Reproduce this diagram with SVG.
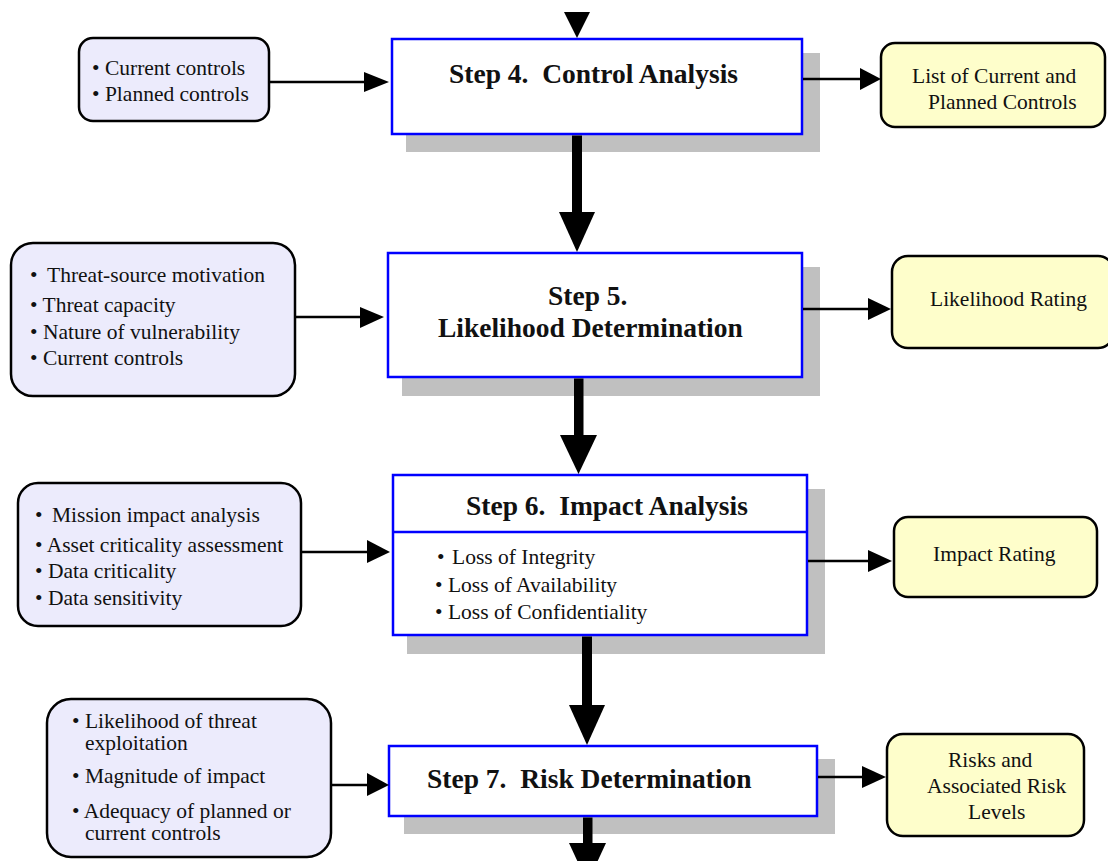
<svg xmlns="http://www.w3.org/2000/svg" width="1108" height="861" viewBox="0 0 1108 861">
<style>
text{font-family:"Liberation Serif","Times New Roman",serif;fill:#111;white-space:pre}
.t{font-size:21.5px}
.h{font-size:27.5px;font-weight:bold}
.step{fill:#fff;stroke:#0000ff;stroke-width:2.5}
.sh{fill:#c0c0c0}
.in{fill:#ecebfc;stroke:#000;stroke-width:2.5}
.out{fill:#fefecb;stroke:#000;stroke-width:2.5}
.ln{stroke:#000;stroke-width:2.5;fill:none}
.hd{fill:#000}
</style>
<rect width="1108" height="861" fill="#fff"/>
<g id="step4">
<rect class="sh" x="406" y="53" width="414" height="99"/>
<rect class="step" x="392" y="39" width="410" height="95"/>
<text class="h" x="449" y="83">Step 4.  Control Analysis</text>
</g>
<g id="step5">
<rect class="sh" x="402" y="267" width="418" height="129"/>
<rect class="step" x="388" y="253" width="414" height="124"/>
<text class="h" x="548" y="305">Step 5.</text>
<text class="h" x="438" y="337">Likelihood Determination</text>
</g>
<g id="step6">
<rect class="sh" x="407" y="489" width="418" height="165"/>
<rect class="step" x="393" y="475" width="414" height="160"/>
<line x1="393" y1="532" x2="807" y2="532" stroke="#0000ff" stroke-width="2.5"/>
<text class="h" x="466" y="515">Step 6.  Impact Analysis</text>
<text class="t" x="437" y="564">•</text>
<text class="t" x="452" y="564">Loss of Integrity</text>
<text class="t" x="435" y="592">• Loss of Availability</text>
<text class="t" x="435" y="619">• Loss of Confidentiality</text>
</g>
<g id="step7">
<rect class="sh" x="404" y="759" width="431" height="75"/>
<rect class="step" x="389" y="746" width="428" height="70"/>
<text class="h" x="427" y="788">Step 7.  Risk Determination</text>
</g>
<g id="in4">
<rect class="in" x="79" y="38" width="190" height="83" rx="14"/>
<text class="t" x="92" y="75">• Current controls</text>
<text class="t" x="92" y="101">• Planned controls</text>
</g>
<g id="in5">
<rect class="in" x="11" y="243" width="284" height="153" rx="22"/>
<text class="t" x="30" y="282">•</text>
<text class="t" x="47" y="282">Threat-source motivation</text>
<text class="t" x="30" y="312">• Threat capacity</text>
<text class="t" x="30" y="339">• Nature of vulnerability</text>
<text class="t" x="30" y="365">• Current controls</text>
</g>
<g id="in6">
<rect class="in" x="18" y="483" width="283" height="143" rx="20"/>
<text class="t" x="35" y="522">•</text>
<text class="t" x="52" y="522">Mission impact analysis</text>
<text class="t" x="35" y="552">• Asset criticality assessment</text>
<text class="t" x="35" y="578">• Data criticality</text>
<text class="t" x="35" y="605">• Data sensitivity</text>
</g>
<g id="in7">
<rect class="in" x="47" y="699" width="284" height="158" rx="24"/>
<text class="t" x="72" y="728">• Likelihood of threat</text>
<text class="t" x="85" y="750">exploitation</text>
<text class="t" x="72" y="783">• Magnitude of impact</text>
<text class="t" x="72" y="818">• Adequacy of planned or</text>
<text class="t" x="85" y="840">current controls</text>
</g>
<g id="out4">
<rect class="out" x="881" y="43" width="224" height="84" rx="14"/>
<text class="t" x="912" y="83">List of Current and</text>
<text class="t" x="928" y="109">Planned Controls</text>
</g>
<g id="out5">
<rect class="out" x="892" y="256" width="222" height="92" rx="16"/>
<text class="t" x="930" y="306">Likelihood Rating</text>
</g>
<g id="out6">
<rect class="out" x="894" y="517" width="203" height="80" rx="14"/>
<text class="t" x="933" y="561">Impact Rating</text>
</g>
<g id="out7">
<rect class="out" x="887" y="734" width="197" height="102" rx="16"/>
<text class="t" x="948" y="767">Risks and</text>
<text class="t" x="927" y="793">Associated Risk</text>
<text class="t" x="968" y="819">Levels</text>
</g>
<g id="connectors">
<polygon class="hd" points="564,12 590,12 577,38"/>
<rect class="hd" x="572" y="135.5" width="10" height="78"/>
<polygon class="hd" points="559,212 595,212 577,252"/>
<rect class="hd" x="574" y="378.5" width="9.5" height="58"/>
<polygon class="hd" points="560,435 597,435 578.5,474"/>
<rect class="hd" x="582" y="636.5" width="10" height="70"/>
<polygon class="hd" points="569,705 605,705 587,745"/>
<rect class="hd" x="583" y="817.5" width="9.5" height="27"/>
<polygon class="hd" points="569,843 606,843 587.5,883"/>
<line class="ln" x1="270" y1="82" x2="366" y2="82"/>
<polygon class="hd" points="364,72 389,82 364,92"/>
<line class="ln" x1="803" y1="79" x2="862" y2="79"/>
<polygon class="hd" points="860,68 881,79 860,90"/>
<line class="ln" x1="296" y1="317" x2="362" y2="317"/>
<polygon class="hd" points="360,307 384,317 360,328"/>
<line class="ln" x1="803" y1="309" x2="870" y2="309"/>
<polygon class="hd" points="868,298 891,309 868,320"/>
<line class="ln" x1="302" y1="552" x2="369" y2="552"/>
<polygon class="hd" points="367,540 390,552 367,563"/>
<line class="ln" x1="808" y1="561" x2="870" y2="561"/>
<polygon class="hd" points="868,550 892,561 868,572"/>
<line class="ln" x1="332" y1="785" x2="369" y2="785"/>
<polygon class="hd" points="367,773 389,785 367,796"/>
<line class="ln" x1="818" y1="777" x2="864" y2="777"/>
<polygon class="hd" points="862,766 886,777 862,788"/>
</g>
</svg>
